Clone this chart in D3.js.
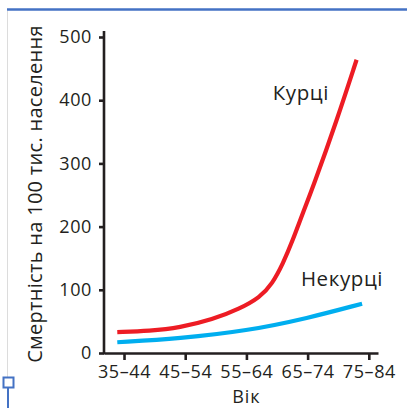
<!DOCTYPE html>
<html>
<head>
<meta charset="utf-8">
<script src="https://cdn.jsdelivr.net/npm/d3@7"></script>
<style>
  html, body { margin: 0; padding: 0; background: #fff; }
  svg { display: block; }
  text { font-family: "Open Sans", "Noto Sans", sans-serif; fill: #231f20; }
</style>
</head>
<body>
<svg id="chart" width="407" height="408"></svg>
<script>
// ---- data ----
const ageGroups = ["35–44", "45–54", "55–64", "65–74", "75–84"];
const yTicks = [0, 100, 200, 300, 400, 500];
// positions along the age axis (0 = first group) and deaths per 100k
const smokersPos =    [-0.11, 0.42, 0.91, 1.45, 1.89, 2.22, 2.42, 2.60, 2.76, 2.92, 3.09, 3.48, 3.80];
const smokersVal =    [33,    35,   40,   53,   70,   88,   109,  142,  179,  221,  263,  369,  464];
const nonSmokersPos = [-0.11, 0.91, 2.01, 3.00, 3.89];
const nonSmokersVal = [17,    23,   35,   55,   78];
const seriesLabels = ["Курці", "Некурці"];
const yTitle = "Смертність на 100 тис. населення";
const xTitle = "Вік";

// ---- layout ----
const svg = d3.select("#chart");
const x = d3.scaleLinear().domain([-0.327, 4.15]).range([104, 378]);
const y = d3.scaleLinear().domain([0, 500]).range([353, 37]);
const ink = "#231f20";

// frame decorations
svg.append("line").attr("x1", 7.5).attr("x2", 7.5).attr("y1", 11).attr("y2", 377)
  .attr("stroke", "#dcdcdc").attr("stroke-width", 1);
svg.append("line").attr("x1", 7).attr("x2", 407).attr("y1", 9.5).attr("y2", 9.5)
  .attr("stroke", "#4472c4").attr("stroke-width", 2.5);
svg.append("line").attr("x1", 8).attr("x2", 8).attr("y1", 388).attr("y2", 408)
  .attr("stroke", "#4472c4").attr("stroke-width", 2);
svg.append("rect").attr("x", 3.5).attr("y", 377.5).attr("width", 10).attr("height", 10)
  .attr("fill", "#fff").attr("stroke", "#4472c4").attr("stroke-width", 2);

// axes
const yAxis = d3.axisLeft(y).tickValues(yTicks).tickSize(5).tickSizeOuter(0).tickPadding(7);
const gy = svg.append("g").attr("transform", `translate(${x.range()[0]},0)`).call(yAxis);
gy.select(".domain").attr("d", `M0,${y(0) + 1.2}V${y(0) - 322}`);

const xAxis = d3.axisBottom(x).tickValues(d3.range(ageGroups.length))
  .tickFormat(i => ageGroups[i]).tickSize(7).tickSizeOuter(0).tickPadding(5);
const gx = svg.append("g").attr("transform", `translate(0,${y(0)})`).call(xAxis);

[gx, gy].forEach(g => {
  g.selectAll(".domain").attr("stroke", ink).attr("stroke-width", 2.6);
  g.selectAll(".tick line").attr("stroke", ink).attr("stroke-width", 2.6);
  g.selectAll(".tick text").attr("fill", ink).style("font-size", "18px")
    .style("letter-spacing", "0.6px")
    .style("font-family", '"Open Sans", sans-serif');
});

// lines
const line = d3.line().x(d => x(d[0])).y(d => y(d[1])).curve(d3.curveBasis);
svg.append("path").datum(d3.zip(nonSmokersPos, nonSmokersVal))
  .attr("d", line).attr("fill", "none").attr("stroke", "#00aeef").attr("stroke-width", 4.2);
svg.append("path").datum(d3.zip(smokersPos, smokersVal))
  .attr("d", line).attr("fill", "none").attr("stroke", "#ed1c24").attr("stroke-width", 4.2);

// series labels
svg.append("text").attr("x", x(2.43)).attr("y", y(400)).text(seriesLabels[0])
  .style("font-size", "20.5px").style("letter-spacing", "0.6px");
svg.append("text").attr("x", x(2.89)).attr("y", y(106)).text(seriesLabels[1])
  .style("font-size", "20.5px").style("letter-spacing", "0.6px");

// titles
svg.append("text").attr("x", x(2)).attr("y", 402.5).attr("text-anchor", "middle")
  .text(xTitle).style("font-size", "18px").style("letter-spacing", "1px");
svg.append("text").attr("transform", `translate(42,194) rotate(-90)`)
  .attr("text-anchor", "middle").text(yTitle).style("font-size", "20px")
  .style("letter-spacing", "0.3px");
</script>
</body>
</html>
